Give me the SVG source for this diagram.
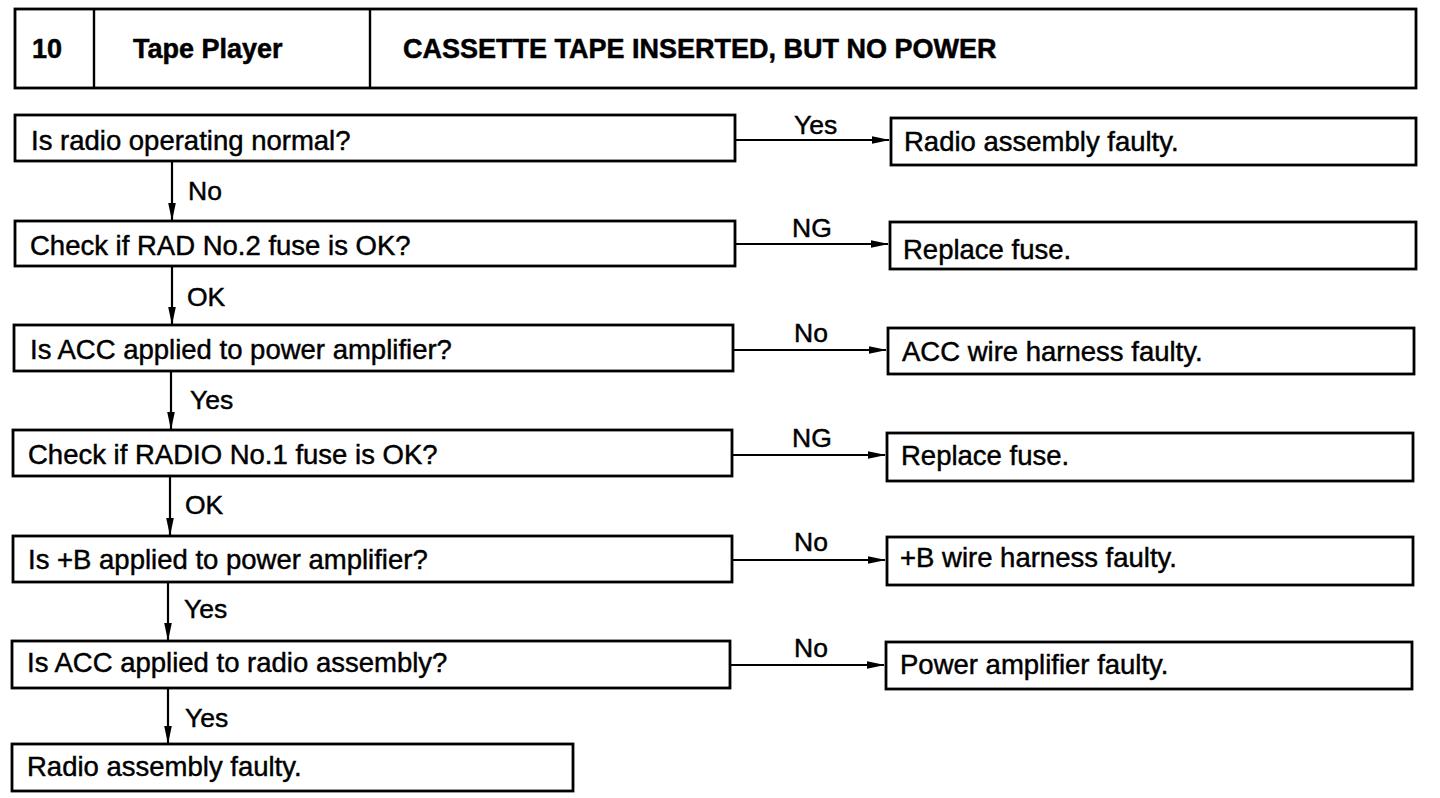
<svg xmlns="http://www.w3.org/2000/svg" width="1440" height="798" viewBox="0 0 1440 798">
<defs>
<marker id="ah" markerWidth="18" markerHeight="10" refX="17" refY="5" orient="auto" markerUnits="userSpaceOnUse">
<path d="M0,1.2 L18,5 L0,8.8 Z" fill="#000"/>
</marker>
<style>
.box{fill:#fff;stroke:#000;stroke-width:2.8}
.t{font-family:"Liberation Sans",Arial,sans-serif;font-size:27.5px;fill:#000;stroke:#000;stroke-width:0.45}
.h{font-family:"Liberation Sans",Arial,sans-serif;font-size:27px;font-weight:bold;fill:#000;stroke:#000;stroke-width:0.5}
.lb{font-family:"Liberation Sans",Arial,sans-serif;font-size:26.5px;fill:#000;stroke:#000;stroke-width:0.45}
.c{stroke:#000;stroke-width:2.2;fill:none;marker-end:url(#ah)}
</style>
</defs>
<rect width="1440" height="798" fill="#fff"/>
<g id="header">
<rect class="box" x="15" y="9" width="1401" height="79"/>
<line x1="94" y1="9" x2="94" y2="88" stroke="#000" stroke-width="2.4"/>
<line x1="370" y1="9" x2="370" y2="88" stroke="#000" stroke-width="2.4"/>
<text class="h" x="32" y="58">10</text>
<text class="h" x="133" y="58">Tape Player</text>
<text class="h" x="403" y="58">CASSETTE TAPE INSERTED, BUT NO POWER</text>
</g>
<g id="q1"><rect class="box" x="15" y="115" width="720" height="46"/><text class="t" x="31" y="150">Is radio operating normal?</text></g>
<g id="q2"><rect class="box" x="15" y="221" width="720" height="45"/><text class="t" x="30" y="255">Check if RAD No.2 fuse is OK?</text></g>
<g id="q3"><rect class="box" x="14" y="325" width="719" height="46"/><text class="t" x="30" y="359">Is ACC applied to power amplifier?</text></g>
<g id="q4"><rect class="box" x="13" y="430" width="719" height="46"/><text class="t" x="28" y="464">Check if RADIO No.1 fuse is OK?</text></g>
<g id="q5"><rect class="box" x="13" y="536" width="719" height="46"/><text class="t" x="28" y="569">Is +B applied to power amplifier?</text></g>
<g id="q6"><rect class="box" x="12" y="641" width="718" height="47"/><text class="t" x="27" y="672">Is ACC applied to radio assembly?</text></g>
<g id="end"><rect class="box" x="12" y="744" width="561" height="47"/><text class="t" x="27" y="776">Radio assembly faulty.</text></g>
<g id="r1"><rect class="box" x="891" y="118" width="525" height="47"/><text class="t" x="904" y="151">Radio assembly faulty.</text></g>
<g id="r2"><rect class="box" x="890" y="222" width="526" height="47"/><text class="t" x="903" y="259">Replace fuse.</text></g>
<g id="r3"><rect class="box" x="888" y="328" width="526" height="46"/><text class="t" x="902" y="361">ACC wire harness faulty.</text></g>
<g id="r4"><rect class="box" x="887" y="433" width="526" height="48"/><text class="t" x="901" y="465">Replace fuse.</text></g>
<g id="r5"><rect class="box" x="887" y="537" width="526" height="48"/><text class="t" x="900" y="567">+B wire harness faulty.</text></g>
<g id="r6"><rect class="box" x="886" y="642" width="526" height="47"/><text class="t" x="900" y="674">Power amplifier faulty.</text></g>
<g id="connectors">
<line class="c" x1="735" y1="140" x2="889" y2="140"/>
<line class="c" x1="735" y1="244" x2="888" y2="244"/>
<line class="c" x1="733" y1="350" x2="886" y2="350"/>
<line class="c" x1="732" y1="455" x2="885" y2="455"/>
<line class="c" x1="732" y1="560" x2="885" y2="560"/>
<line class="c" x1="730" y1="665" x2="884" y2="665"/>
<line class="c" x1="172" y1="161" x2="172" y2="220"/>
<line class="c" x1="172" y1="266" x2="172" y2="324"/>
<line class="c" x1="171" y1="371" x2="171" y2="429"/>
<line class="c" x1="170" y1="476" x2="170" y2="535"/>
<line class="c" x1="168" y1="582" x2="168" y2="640"/>
<line class="c" x1="168" y1="688" x2="168" y2="743"/>
<text class="lb" x="794" y="134">Yes</text>
<text class="lb" x="792" y="237">NG</text>
<text class="lb" x="794" y="342">No</text>
<text class="lb" x="792" y="447">NG</text>
<text class="lb" x="794" y="551">No</text>
<text class="lb" x="794" y="657">No</text>
<text class="lb" x="188" y="200">No</text>
<text class="lb" x="187" y="306">OK</text>
<text class="lb" x="190" y="409">Yes</text>
<text class="lb" x="185" y="514">OK</text>
<text class="lb" x="184" y="618">Yes</text>
<text class="lb" x="185" y="727">Yes</text>
</g>
</svg>
